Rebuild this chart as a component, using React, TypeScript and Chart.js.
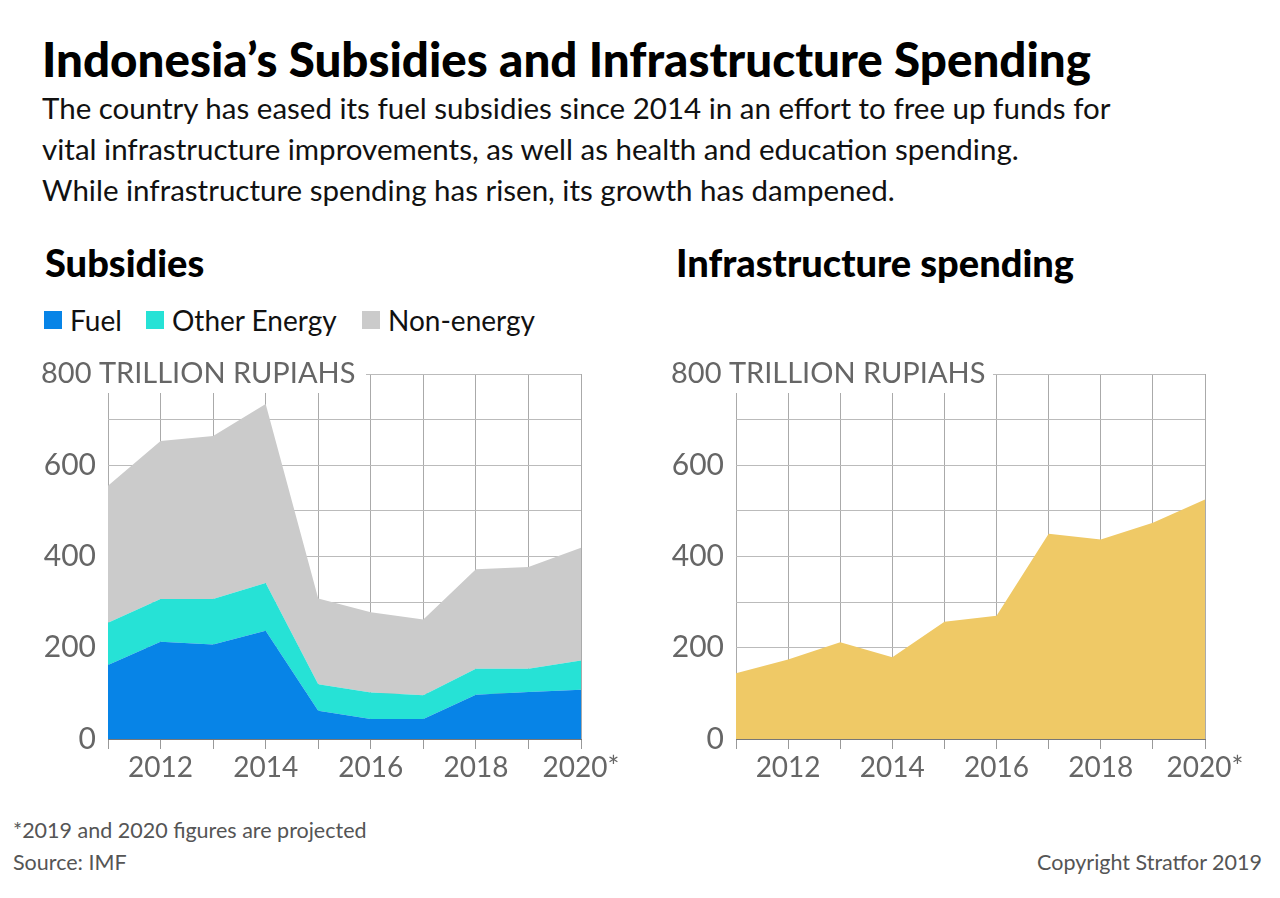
import React, { useEffect, useRef } from "react";
import { Chart, registerables } from "chart.js";

Chart.register(...registerables);

const years = ["2011", "2012", "2013", "2014", "2015", "2016", "2017", "2018", "2019", "2020"];
const xTickLabels = ["", "2012", "", "2014", "", "2016", "", "2018", "", "2020*"];
const fuel = [162, 213, 207, 237, 62, 44, 44, 97, 103, 108];
const otherEnergy = [93, 94, 100, 105, 58, 58, 52, 57, 51, 64];
const nonEnergy = [300, 346, 357, 392, 188, 176, 166, 218, 223, 247];
const infrastructure = [144, 174, 212, 179, 257, 270, 450, 437, 474, 525];
const yLabelTicks = [0, 200, 400, 600];
const unitLabel = "800 TRILLION RUPIAHS";

const C_FUEL = "#0784e7";
const C_OTHER = "#26e2d6";
const C_NON = "#cbcbcb";
const C_INFRA = "#efc966";
const TICK_COLOR = "#666666";
const FONT = "Lato, 'Noto Sans', sans-serif";

function makeConfig(datasets: any[], yWidth: number, padRight: number, textX: number, rectX0: number, rectX1: number): any {
  const unitPlugin = {
    id: "unitPlugin",
    beforeDatasetsDraw(chart: any) {
      const ctx = chart.ctx;
      const y = chart.scales.y.getPixelForValue(800);
      ctx.save();
      ctx.fillStyle = "#ffffff";
      ctx.fillRect(rectX0, y - 20, rectX1 - rectX0, 39);
      ctx.fillStyle = TICK_COLOR;
      ctx.font = "29px " + FONT;
      ctx.textBaseline = "middle";
      ctx.textAlign = "left";
      ctx.fillText(unitLabel, textX, y);
      ctx.restore();
    },
  };
  return {
    type: "line",
    data: { labels: years, datasets },
    plugins: [unitPlugin],
    options: {
      responsive: false,
      animation: false,
      layout: { padding: { top: 34, right: padRight, left: 0, bottom: 0 } },
      plugins: { legend: { display: false }, tooltip: { enabled: false } },
      elements: { point: { radius: 0 }, line: { borderWidth: 0, tension: 0 } },
      scales: {
        x: {
          offset: false,
          grid: {
            color: "#aaaaaa",
            borderDash: [3, 3],
            drawTicks: true,
            tickLength: 10,
            tickColor: "#999999",
            tickBorderDash: [],
            lineWidth: 1,
          },
          border: { display: true, color: "#777777", width: 1 },
          ticks: {
            autoSkip: false,
            maxRotation: 0,
            padding: 2,
            color: TICK_COLOR,
            font: { family: FONT, size: 28 },
            callback: (_v: any, i: number) => xTickLabels[i],
          },
          afterFit: (s: any) => {
            s.height = 61;
          },
        },
        y: {
          stacked: true,
          min: 0,
          max: 800,
          grid: { color: "#bbbbbb", lineWidth: 1, drawTicks: false },
          border: { display: false },
          ticks: {
            stepSize: 100,
            padding: 12,
            color: TICK_COLOR,
            font: { family: FONT, size: 30 },
            callback: (v: any) => (yLabelTicks.includes(v) ? String(v) : ""),
          },
          afterFit: (s: any) => {
            s.width = yWidth;
          },
        },
      },
    },
  };
}

function ChartCanvas({ config, style }: { config: any; style: React.CSSProperties }) {
  const ref = useRef<HTMLCanvasElement>(null);
  useEffect(() => {
    if (!ref.current) return;
    const c = new Chart(ref.current, config);
    return () => c.destroy();
  }, []);
  return <canvas ref={ref} width={640} height={460} style={{ position: "absolute", width: 640, height: 460, ...style }} />;
}

const abs = (x: number, y: number, extra: React.CSSProperties = {}): React.CSSProperties => ({
  position: "absolute",
  left: x,
  top: y,
  whiteSpace: "nowrap",
  fontFamily: FONT,
  ...extra,
});

export default function App() {
  const leftCfg = makeConfig(
    [
      { label: "Fuel", data: fuel, backgroundColor: C_FUEL, fill: "origin", borderWidth: 0 },
      { label: "Other Energy", data: otherEnergy, backgroundColor: C_OTHER, fill: "-1", borderWidth: 0 },
      { label: "Non-energy", data: nonEnergy, backgroundColor: C_NON, fill: "-1", borderWidth: 0 },
    ],
    108,
    59,
    41,
    36,
    366
  );
  const rightCfg = makeConfig(
    [{ label: "Infrastructure spending", data: infrastructure, backgroundColor: C_INFRA, fill: "origin", borderWidth: 0 }],
    96,
    75,
    31,
    26,
    353
  );
  const legendItems = [
    { label: "Fuel", color: C_FUEL, x: 44 },
    { label: "Other Energy", color: C_OTHER, x: 146 },
    { label: "Non-energy", color: C_NON, x: 362 },
  ];
  return (
    <div style={{ position: "absolute", left: 0, top: 0, width: 1280, height: 898, background: "#fff", overflow: "hidden" }}>
      <div style={abs(42, 30, { fontSize: 47.5, fontWeight: 900, color: "#000", lineHeight: "normal" })}>
        Indonesia’s Subsidies and Infrastructure Spending
      </div>
      <div style={abs(42, 87, { fontSize: 29.5, color: "#111", lineHeight: "41px" })}>
        The country has eased its fuel subsidies since 2014 in an effort to free up funds for
        <br />
        vital infrastructure improvements, as well as health and education spending.
        <br />
        While infrastructure spending has risen, its growth has dampened.
      </div>
      <div style={abs(45, 239, { fontSize: 38, fontWeight: 900, color: "#000", lineHeight: "normal" })}>Subsidies</div>
      <div style={abs(676, 239, { fontSize: 38, fontWeight: 900, color: "#000", lineHeight: "normal" })}>
        Infrastructure spending
      </div>
      {legendItems.map((it) => (
        <div key={it.label} style={abs(it.x, 304, { display: "flex", alignItems: "center", fontSize: 28, color: "#111", lineHeight: "32px" })}>
          <span style={{ display: "inline-block", width: 18, height: 18, background: it.color, marginRight: 8 }} />
          {it.label}
        </div>
      ))}
      <ChartCanvas config={leftCfg} style={{ left: 0, top: 340 }} />
      <ChartCanvas config={rightCfg} style={{ left: 640, top: 340 }} />
      <div style={abs(13, 818, { fontSize: 21.5, color: "#555", lineHeight: "24px" })}>*2019 and 2020 figures are projected</div>
      <div style={abs(13, 850, { fontSize: 21.5, color: "#555", lineHeight: "24px" })}>Source: IMF</div>
      <div style={{ ...abs(0, 850, { fontSize: 21.5, color: "#555", lineHeight: "24px" }), left: "auto", right: 18 }}>
        Copyright Stratfor 2019
      </div>
    </div>
  );
}
